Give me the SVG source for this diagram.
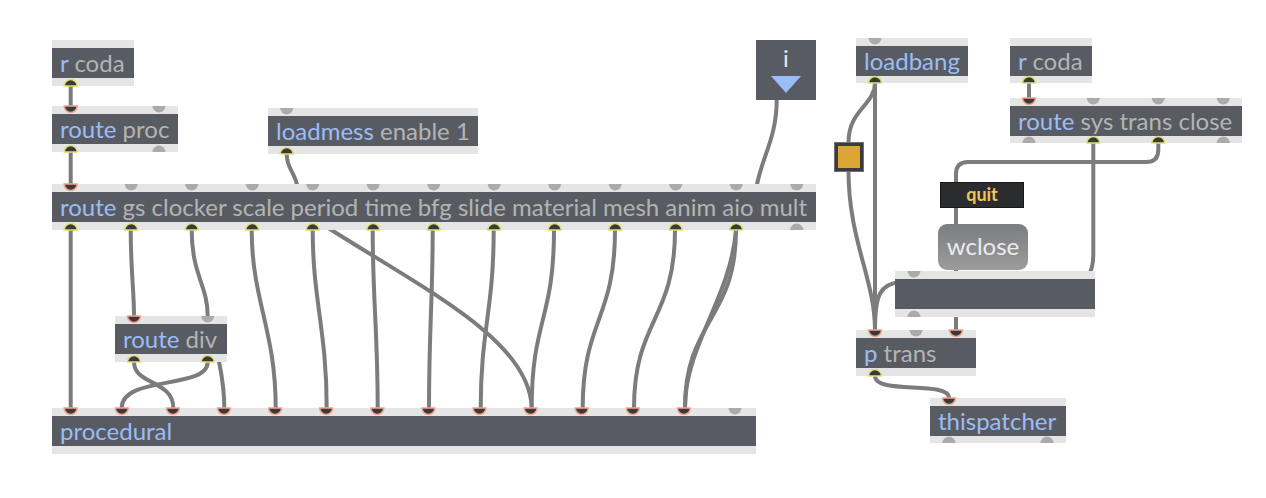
<svg xmlns="http://www.w3.org/2000/svg" xmlns:xlink="http://www.w3.org/1999/xlink" width="1266" height="498" viewBox="0 0 1266 498">
<style>
.bar{fill:#e5e5e5}
.body{fill:#595b63}
.t{font-family:Lato,"Liberation Sans",sans-serif;font-size:24px}
.k{fill:#9bbdf6}
.a{fill:#b4b4b4}
.pg{fill:#ababab}
.pi{fill:#3a3a3a;stroke:#f2a48f;stroke-width:1.5}
.po{fill:#3a3a3a;stroke:#dfe07c;stroke-width:1.5}
.cord{fill:none;stroke:#7c7c7c;stroke-width:4;stroke-linecap:round}
</style>
<defs>
<path id="pin" d="M-6.5 0A6.5 6.5 0 0 0 6.5 0Z"/>
<path id="pout" d="M-6.5 0A6.5 6.5 0 0 1 6.5 0Z"/>
<linearGradient id="wg" x1="0" y1="0" x2="0" y2="1">
<stop offset="0" stop-color="#7b7d82"/>
<stop offset="1" stop-color="#9c9c9c"/>
</linearGradient>
</defs>
<rect width="1266" height="498" fill="#ffffff"/>
<g id="connectors">
<path class="cord" d="M70.7 86L70.7 106"/>
<path class="cord" d="M70.7 152L70.7 184"/>
<path class="cord" d="M286.7 154C286.7 170 296 172 298 190"/>
<path class="cord" d="M776.7 100C776.7 140 760 160 756 190"/>
<path class="cord" d="M70.7 230L70.7 408"/>
<path class="cord" d="M130.7 230C130.7 270 134 290 134 316"/>
<path class="cord" d="M191.7 230C191.7 275 207.7 285 207.7 316"/>
<path class="cord" d="M251.7 230C251.7 300 275.7 330 275.7 408"/>
<path class="cord" d="M312.7 230C312.7 300 326.7 330 326.7 408"/>
<path class="cord" d="M322 224C425 290 530 340 531.7 408"/>
<path class="cord" d="M372.7 230C372.7 300 377.7 330 377.7 408"/>
<path class="cord" d="M432.7 230C432.7 300 429 330 429 408"/>
<path class="cord" d="M493.7 230C493.7 310 480.7 330 480.7 408"/>
<path class="cord" d="M554 230C554 320 531.7 320 531.7 408"/>
<path class="cord" d="M615 230C615 320 582.7 320 582.7 408"/>
<path class="cord" d="M675 230C675 320 634 320 634 408"/>
<path class="cord" d="M736 230C736 320 685 320 685 408"/>
<path class="cord" d="M736 230C730 300 685 345 685 408"/>
<path class="cord" d="M134 362C134 385 173.3 380 173.3 408"/>
<path class="cord" d="M207.7 362C207.7 390 121.7 375 121.7 408"/>
<path class="cord" d="M216 345C220 370 224.3 380 224.3 408"/>
<path class="cord" d="M875 83L875 330"/>
<path class="cord" d="M875 83C875 105 848.5 110 848.5 142"/>
<path class="cord" d="M848.5 171C848.5 240 875 280 875 330"/>
<path class="cord" d="M875 330C875 295 880 284 900 282"/>
<path class="cord" d="M1029 83L1029 98"/>
<path class="cord" d="M1093.3 143L1093.3 255C1093.3 268 1090 272 1085 285"/>
<path class="cord" d="M1158.3 143L1158.3 150C1158.3 158 1154 162 1146 162L968 162C960 162 956 166 956 174L956 300"/>
<path class="cord" d="M956 310L956 330"/>
<path class="cord" d="M875 376C875 395 949 380 949 398"/>
</g>
<g id="r-coda-1">
<rect class="bar" x="52" y="40" width="82" height="46"/>
<rect class="body" x="52" y="48" width="82" height="30"/>
<text class="t" x="60" y="72"><tspan class="k">r</tspan><tspan class="a"> coda</tspan></text>
<use href="#pout" class="po" x="70.7" y="86"/>
</g>
<g id="route-proc">
<rect class="bar" x="52" y="106" width="126" height="46"/>
<rect class="body" x="52" y="114" width="126" height="30"/>
<text class="t" x="60" y="138"><tspan class="k">route</tspan><tspan class="a"> proc</tspan></text>
<use href="#pin" class="pi" x="70.7" y="106"/>
<use href="#pin" class="pg" x="159" y="106"/>
<use href="#pout" class="po" x="70.7" y="152"/>
<use href="#pout" class="pg" x="159" y="152"/>
</g>
<g id="loadmess">
<rect class="bar" x="268" y="108" width="210" height="46"/>
<rect class="body" x="268" y="116" width="210" height="30"/>
<text class="t" x="276" y="140"><tspan class="k">loadmess</tspan><tspan class="a"> enable 1</tspan></text>
<use href="#pin" class="pg" x="286.7" y="108"/>
<use href="#pout" class="po" x="286.7" y="154"/>
</g>
<g id="route-main">
<rect class="bar" x="52" y="184" width="764" height="46"/>
<rect class="body" x="52" y="192" width="764" height="30"/>
<text class="t" x="60" y="216"><tspan class="k">route</tspan><tspan class="a"> gs clocker scale period time bfg slide material mesh anim aio mult</tspan></text>
<use href="#pin" class="pi" x="70.7" y="184"/>
<use href="#pin" class="pg" x="131.2" y="184"/>
<use href="#pin" class="pg" x="191.7" y="184"/>
<use href="#pin" class="pg" x="252.2" y="184"/>
<use href="#pin" class="pg" x="312.7" y="184"/>
<use href="#pin" class="pg" x="373.2" y="184"/>
<use href="#pin" class="pg" x="433.7" y="184"/>
<use href="#pin" class="pg" x="494.2" y="184"/>
<use href="#pin" class="pg" x="554.7" y="184"/>
<use href="#pin" class="pg" x="615.2" y="184"/>
<use href="#pin" class="pg" x="675.7" y="184"/>
<use href="#pin" class="pg" x="736.2" y="184"/>
<use href="#pin" class="pg" x="796.7" y="184"/>
<use href="#pout" class="po" x="70.7" y="230"/>
<use href="#pout" class="po" x="131.2" y="230"/>
<use href="#pout" class="po" x="191.7" y="230"/>
<use href="#pout" class="po" x="252.2" y="230"/>
<use href="#pout" class="po" x="312.7" y="230"/>
<use href="#pout" class="po" x="373.2" y="230"/>
<use href="#pout" class="po" x="433.7" y="230"/>
<use href="#pout" class="po" x="494.2" y="230"/>
<use href="#pout" class="po" x="554.7" y="230"/>
<use href="#pout" class="po" x="615.2" y="230"/>
<use href="#pout" class="po" x="675.7" y="230"/>
<use href="#pout" class="po" x="736.2" y="230"/>
<use href="#pout" class="pg" x="796.7" y="230"/>
</g>
<g id="inlet-button">
<rect class="body" x="756" y="40" width="60" height="60"/>
<text x="786" y="67" text-anchor="middle" font-family="Lato,'Liberation Sans',sans-serif" font-size="24" fill="#e8e8e8">i</text>
<polygon points="771,76 801,76 786,93" fill="#9bbdf6"/>
</g>
<g id="route-div">
<rect class="bar" x="115" y="316" width="112" height="46"/>
<rect class="body" x="115" y="324" width="112" height="30"/>
<text class="t" x="123" y="348"><tspan class="k">route</tspan><tspan class="a"> div</tspan></text>
<use href="#pin" class="pi" x="134" y="316"/>
<use href="#pin" class="pg" x="207.7" y="316"/>
<use href="#pout" class="po" x="134" y="362"/>
<use href="#pout" class="po" x="207.7" y="362"/>
</g>
<g id="procedural">
<rect class="bar" x="52" y="408" width="704" height="46"/>
<rect class="body" x="52" y="416" width="704" height="30"/>
<text class="t" x="60" y="440"><tspan class="k">procedural</tspan></text>
<use href="#pin" class="pi" x="70.7" y="408"/>
<use href="#pin" class="pi" x="121.8" y="408"/>
<use href="#pin" class="pi" x="172.9" y="408"/>
<use href="#pin" class="pi" x="224" y="408"/>
<use href="#pin" class="pi" x="275.1" y="408"/>
<use href="#pin" class="pi" x="326.2" y="408"/>
<use href="#pin" class="pi" x="377.3" y="408"/>
<use href="#pin" class="pi" x="428.4" y="408"/>
<use href="#pin" class="pi" x="479.5" y="408"/>
<use href="#pin" class="pi" x="530.6" y="408"/>
<use href="#pin" class="pi" x="581.7" y="408"/>
<use href="#pin" class="pi" x="632.8" y="408"/>
<use href="#pin" class="pi" x="683.9" y="408"/>
<use href="#pin" class="pg" x="735" y="408"/>
</g>
<g id="loadbang">
<rect class="bar" x="856" y="38" width="112" height="45"/>
<rect class="body" x="856" y="46" width="112" height="30"/>
<text class="t" x="864" y="70"><tspan class="k">loadbang</tspan></text>
<use href="#pin" class="pg" x="875" y="38"/>
<use href="#pout" class="po" x="875" y="83"/>
</g>
<g id="r-coda-2">
<rect class="bar" x="1010" y="38" width="82" height="45"/>
<rect class="body" x="1010" y="46" width="82" height="30"/>
<text class="t" x="1018" y="70"><tspan class="k">r</tspan><tspan class="a"> coda</tspan></text>
<use href="#pout" class="po" x="1029" y="83"/>
</g>
<g id="route-sys">
<rect class="bar" x="1010" y="98" width="232" height="45"/>
<rect class="body" x="1010" y="106" width="232" height="30"/>
<text class="t" x="1018" y="130"><tspan class="k">route</tspan><tspan class="a"> sys trans close</tspan></text>
<use href="#pin" class="pi" x="1029" y="98"/>
<use href="#pin" class="pg" x="1093.3" y="98"/>
<use href="#pin" class="pg" x="1158.3" y="98"/>
<use href="#pin" class="pg" x="1223.3" y="98"/>
<use href="#pout" class="pg" x="1029" y="143"/>
<use href="#pout" class="po" x="1093.3" y="143"/>
<use href="#pout" class="po" x="1158.3" y="143"/>
<use href="#pout" class="pg" x="1223.3" y="143"/>
</g>
<g id="toggle">
<rect x="834.5" y="142.5" width="29" height="29" fill="#3b3c40" stroke="#6f7075" stroke-width="1"/>
<rect x="838" y="146" width="22" height="22" fill="#dca634"/>
</g>
<g id="quit">
<rect x="940.5" y="182.5" width="83" height="25" fill="#2b2c2e" stroke="#18181a" stroke-width="1"/>
<text x="982" y="201" text-anchor="middle" font-family="Lato,'Liberation Sans',sans-serif" font-size="18" font-weight="bold" fill="#f3c555">quit</text>
</g>
<g id="wclose">
<rect x="938" y="224" width="90" height="46" rx="9" fill="url(#wg)"/>
<text x="983" y="255" text-anchor="middle" font-family="Lato,'Liberation Sans',sans-serif" font-size="24" fill="#ececec">wclose</text>
</g>
<g id="empty-box">
<rect class="bar" x="895" y="271" width="200" height="46"/>
<rect class="body" x="895" y="279" width="200" height="30"/>
<use href="#pin" class="pg" x="914" y="271"/>
<use href="#pout" class="pg" x="914" y="317"/>
</g>
<g id="p-trans">
<rect class="bar" x="856" y="330" width="120" height="46"/>
<rect class="body" x="856" y="338" width="120" height="30"/>
<text class="t" x="864" y="362"><tspan class="k">p</tspan><tspan class="a"> trans</tspan></text>
<use href="#pin" class="pi" x="875" y="330"/>
<use href="#pin" class="pg" x="916" y="330"/>
<use href="#pin" class="pi" x="956" y="330"/>
<use href="#pout" class="po" x="875" y="376"/>
</g>
<g id="thispatcher">
<rect class="bar" x="930" y="398" width="136" height="45"/>
<rect class="body" x="930" y="406" width="136" height="30"/>
<text class="t" x="938" y="430"><tspan class="k">thispatcher</tspan></text>
<use href="#pin" class="pi" x="949" y="398"/>
<use href="#pout" class="pg" x="949" y="443"/>
<use href="#pout" class="pg" x="1047" y="443"/>
</g>
</svg>
